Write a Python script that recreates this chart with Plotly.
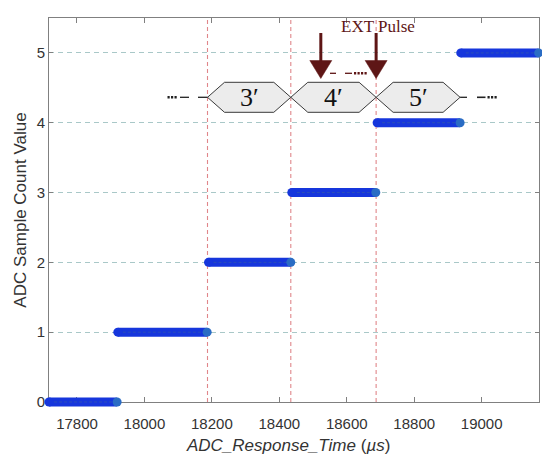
import plotly.graph_objects as go

# ---------------- data ----------------
counts = [0, 1, 2, 3, 4, 5]
seg_start = [17717, 17921, 18190, 18437, 18690, 18938]
seg_end = [17919, 18186, 18434, 18686, 18936, 19169]
pulse_times = [18187, 18434, 18687]
phase_bounds = [18187, 18434, 18687, 18936]
phase_labels = ["3′", "4′", "5′"]
x_ticks = [17800, 18000, 18200, 18400, 18600, 18800, 19000]
y_ticks = [0, 1, 2, 3, 4, 5]
arrow1_time = 18523

# ---------------- layout geometry ----------------
OFF = 8                                  # default page body margin
W, H = 550 - OFF, 456 - OFF              # figure size inside the page
PL, PR, PT, PB = 49, 539, 18, 402        # plot-area box in page pixels
L, R, T, B = PL - OFF, PR - OFF, PT - OFF, PB - OFF
XR = [17717, 19170]
YR = [0, 5.5]
kx = (R - L) / (XR[1] - XR[0])           # px per x unit
ky = (B - T) / (YR[1] - YR[0])           # px per y unit
# invisible full-figure axes with the same scale (lets thick lines overhang the frame)
XR2 = [XR[0] - L / kx, XR[1] + (W - R) / kx]
YR2 = [YR[0] - (H - B) / ky, YR[1] + T / ky]


def X(px):  # page pixel -> x data (decoration placement)
    return XR[0] + (px - PL) / kx


def Y(py):  # page pixel -> y data (decoration placement)
    return YR[0] + (PB - py) / ky


BLUE = "#1636dc"
END = "#2a6cc4"
DARKRED = "#5e1616"
FONT = "Liberation Sans, Arial, sans-serif"
SERIF = "Liberation Serif, Times New Roman, serif"

fig = go.Figure()

# pulse marker lines (on the main axes)
px_, py_ = [], []
for t in pulse_times:
    px_ += [t, t, None]
    py_ += [YR[0], YR[1], None]
fig.add_trace(go.Scatter(x=px_, y=py_, mode="lines",
                         line=dict(color="#e0868a", width=1.1, dash="4px,3px"),
                         showlegend=False, hoverinfo="skip"))

for v, s, e in zip(counts, seg_start, seg_end):
    common = dict(xaxis="x2", yaxis="y2", showlegend=False, hoverinfo="skip", cliponaxis=False)
    fig.add_trace(go.Scatter(x=[s, e], y=[v, v], mode="lines",
                             line=dict(color=BLUE, width=9), **common))
    fig.add_trace(go.Scatter(x=[s, e], y=[v, v], mode="lines",
                             line=dict(color="#2a4fb8", width=1, dash="3px,2px"), **common))
    fig.add_trace(go.Scatter(x=[s], y=[v], mode="markers",
                             marker=dict(color=BLUE, size=9, line=dict(width=0)), **common))
    fig.add_trace(go.Scatter(x=[e], y=[v], mode="markers",
                             marker=dict(color=END, size=9, line=dict(width=0)), **common))

shapes = []
yc = Y(97.3)
hh = 15 / ky
ins = 17 / kx
for a, b in zip(phase_bounds[:-1], phase_bounds[1:]):
    path = (f"M{a},{yc} L{a+ins},{yc+hh} L{b-ins},{yc+hh} L{b},{yc} "
            f"L{b-ins},{yc-hh} L{a+ins},{yc-hh} Z")
    shapes.append(dict(type="path", xref="x", yref="y", path=path,
                       fillcolor="#ececec", line=dict(color="#3a3a3a", width=1), layer="above"))


def hline(x0, x1, y, color, width=1.2, dash="solid"):
    shapes.append(dict(type="line", xref="x", yref="y", x0=x0, x1=x1, y0=y, y1=y,
                       line=dict(color=color, width=width, dash=dash), layer="above"))


hline(X(167.5), X(177), yc, "#222222", 2.5, "2.2px,1.3px")
hline(X(180), X(189), yc, "#222222", 1.3)
hline(X(198), phase_bounds[0], yc, "#222222", 1.3)
hline(phase_bounds[-1], X(467), yc, "#222222", 1.3)
hline(X(477), X(485.5), yc, "#222222", 1.6)
hline(X(487.5), X(497), yc, "#222222", 2.5, "2.2px,1.3px")
ym = Y(73.3)
hline(X(330), X(336), ym, DARKRED, 1.3)
hline(X(345), X(352), ym, DARKRED, 1.3)
hline(X(354), X(367), ym, DARKRED, 2.5, "2.2px,1.3px")

for ax in [arrow1_time, pulse_times[2]]:
    shapes.append(dict(type="line", xref="x", yref="y", x0=ax, x1=ax, y0=Y(33), y1=Y(61),
                       line=dict(color=DARKRED, width=3), layer="above"))
    hw = 11 / kx
    path = f"M{ax-hw},{Y(60.5)} L{ax+hw},{Y(60.5)} L{ax},{Y(78.5)} Z"
    shapes.append(dict(type="path", xref="x", yref="y", path=path,
                       fillcolor=DARKRED, line=dict(color=DARKRED, width=0.5), layer="above"))

annotations = []
for a, b, lab in zip(phase_bounds[:-1], phase_bounds[1:], phase_labels):
    annotations.append(dict(x=(a + b) / 2, y=yc, xref="x", yref="y", text=lab,
                            showarrow=False, font=dict(family=SERIF, size=26, color="#111111"),
                            xanchor="center", yanchor="middle"))
annotations.append(dict(x=X(378), y=Y(26), xref="x", yref="y", text="EXT Pulse",
                        showarrow=False, font=dict(family=SERIF, size=17, color=DARKRED),
                        xanchor="center", yanchor="middle"))
# x-axis title (placed explicitly)
annotations.append(dict(x=(288 - OFF) / W, y=(H - (445 - OFF)) / H, xref="paper", yref="paper",
                        text="<i>ADC_Response_Time</i> (<i>µs</i>)", showarrow=False,
                        font=dict(family=FONT, size=17, color="#333333"),
                        xanchor="center", yanchor="middle"))

fig.update_layout(
    width=W, height=H,
    margin=dict(l=0, r=0, t=0, b=0),
    paper_bgcolor="white", plot_bgcolor="rgba(0,0,0,0)",
    font=dict(family=FONT, color="#333333"),
    shapes=shapes, annotations=annotations,
    showlegend=False,
    xaxis=dict(domain=[L / W, R / W], anchor="y", automargin=False,
               range=XR, tickvals=x_ticks, ticktext=[str(t) for t in x_ticks],
               ticks="inside", ticklen=5, tickcolor="#808080", tickwidth=1,
               showline=True, linecolor="#808080", linewidth=1, mirror="ticks",
               showgrid=False, zeroline=False, ticklabelstandoff=8,
               tickfont=dict(size=15, color="#333333")),
    yaxis=dict(domain=[(H - B) / H, (H - T) / H], anchor="x", automargin=False,
               range=YR, tickvals=y_ticks, ticktext=[str(t) for t in y_ticks],
               ticks="inside", ticklen=4, tickcolor="#808080", tickwidth=1,
               showline=True, linecolor="#808080", linewidth=1, mirror="ticks",
               showgrid=True, gridcolor="#a9c8c8", griddash="5px,4px", gridwidth=1,
               zeroline=False,
               tickfont=dict(size=15, color="#333333"),
               title=dict(text="ADC Sample Count Value",
                          font=dict(size=17, color="#333333"), standoff=5)),
    xaxis2=dict(domain=[0, 1], anchor="y2", range=XR2, visible=False, fixedrange=True),
    yaxis2=dict(domain=[0, 1], anchor="x2", range=YR2, visible=False, fixedrange=True),
)

fig.write_html("out.html")
